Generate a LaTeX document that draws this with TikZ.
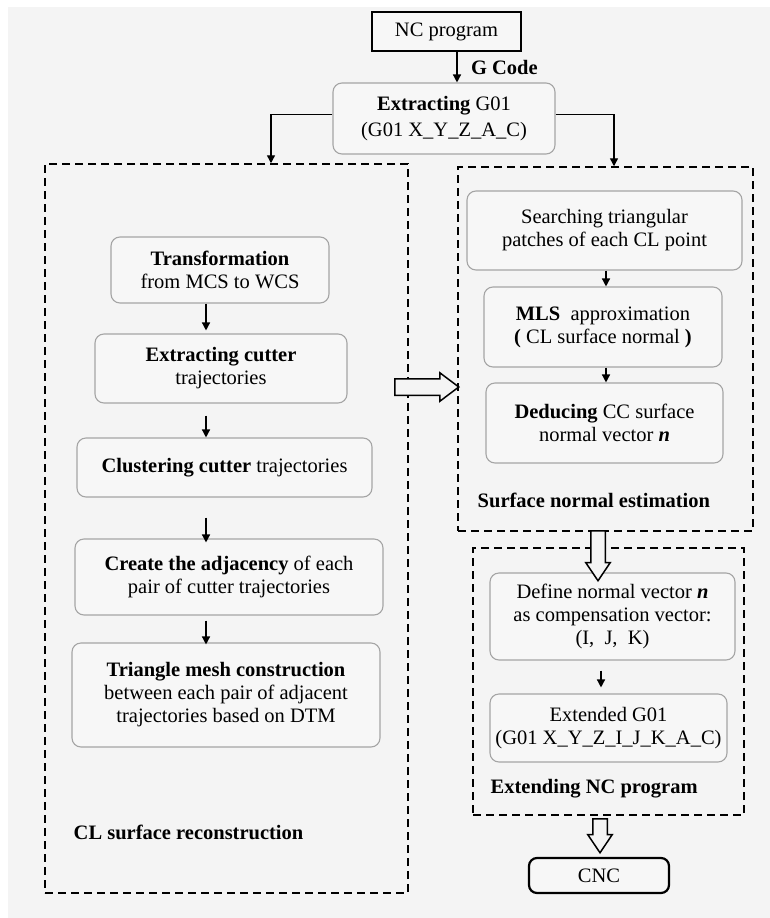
\documentclass[tikz,border=0pt]{standalone}
\usepackage{fontspec}
\setmainfont{Liberation Serif}
\usetikzlibrary{arrows.meta,shapes.arrows}
\definecolor{bgcol}{RGB}{244,244,244}
\definecolor{boxfill}{RGB}{247,247,247}
\definecolor{boxline}{RGB}{165,165,165}

\begin{document}
\begin{tikzpicture}[->,>={Triangle[length=8pt,width=8pt]}
	,x=1pt,y=-1pt
	,line width=1.4pt
	,font=\fontsize{20.5}{23}\selectfont]
  \tikzstyle{proc}=[draw=boxline,line width=1.1pt,rounded corners=9pt,fill=boxfill,align=center,inner sep=0pt]
  \tikzstyle{term}=[draw,line width=2.2pt,fill=boxfill,align=center,inner sep=0pt]
  \tikzstyle{group}=[draw,dash pattern=on 8pt off 5pt,line width=1.5pt,inner sep=0pt]
  \tikzstyle{caption}=[font=\fontsize{20.5}{23}\selectfont\bfseries,anchor=west,inner sep=0pt]
  \tikzstyle{hollow}=[single arrow,draw,fill=bgcol,line width=1.5pt]

  \useasboundingbox (0,0) rectangle (770,918);
  \fill[white,-] (0,0) rectangle (770,918);
  \fill[bgcol,-] (8,7) rectangle (770,918);

  % frames of the three stages
  \node[group,minimum width=363,minimum height=729] (crec) at (226.5,528.5) {};
  \node[group,minimum width=295,minimum height=364] (sne) at (605.5,349) {};
  \node[group,minimum width=271,minimum height=267] (enc) at (608.5,681.5) {};

  % top
  \node[term,minimum width=149,minimum height=39] (nc) at (446.5,31.5) {NC program};
  \node[proc,minimum width=222,minimum height=71] (ext) at (444,118.5)
  	{\textbf{Extracting} G01\\[3pt](G01 X\_Y\_Z\_A\_C)};

  % CL surface reconstruction
  \node[proc,minimum width=218,minimum height=66] (tr) at (220,270)
  	{\textbf{Transformation}\\from MCS to WCS};
  \node[proc,minimum width=252,minimum height=69] (ect) at (221,368.5)
  	{\textbf{Extracting cutter}\\trajectories};
  \node[proc,minimum width=295,minimum height=59] (clu) at (224.5,467.5)
  	{\textbf{Clustering cutter} trajectories};
  \node[proc,minimum width=308,minimum height=76] (adj) at (229,577)
  	{\textbf{Create the adjacency} of each\\pair of cutter trajectories};
  \node[proc,minimum width=308,minimum height=104] (tri) at (226,695)
  	{\textbf{Triangle mesh construction}\\between each pair of adjacent\\trajectories based on DTM};
  \node[caption] (lcrec) at (73,832) {CL surface reconstruction};

  % surface normal estimation
  \node[proc,minimum width=275,minimum height=79] (sea) at (604.5,230.5)
  	{Searching triangular\\patches of each CL point};
  \node[proc,minimum width=238,minimum height=80] (mls) at (603,327)
  	{\textbf{MLS}\ \ approximation\\{\bfseries(} CL surface normal\ {\bfseries)}};
  \node[proc,minimum width=237,minimum height=80] (ded) at (604.5,423)
  	{\textbf{Deducing} CC surface\\normal\ vector \textbf{\textit{n}}};
  \node[caption] (lsne) at (477,500) {Surface normal estimation};

  % extending NC program
  \node[proc,minimum width=245,minimum height=87] (def) at (612.5,616.5)
  	{Define normal vector \textbf{\textit{n}}\\as compensation vector:\\(I,\ \ J,\ \ K)};
  \node[proc,minimum width=237,minimum height=68] (xg) at (608.5,728)
  	{Extended G01\\(G01 X\_Y\_Z\_I\_J\_K\_A\_C)};
  \node[caption] (lenc) at (490,789) {Extending NC program};

  \node[term,rounded corners=8pt,minimum width=140,minimum height=35] (cnc) at (599,875.5) {CNC};

  % hollow arrows
  \node[hollow,inner sep=7.5pt,minimum height=64,minimum width=27,single arrow head extend=6pt,single arrow tip angle=74,anchor=tip] (h1) at (460,387) {};
  \node[hollow,inner sep=6.5pt,minimum height=50,minimum width=23,single arrow head extend=5pt,single arrow tip angle=68,shape border rotate=270,anchor=tail] (h2) at (598,530) {};
  \node[hollow,inner sep=6.5pt,minimum height=34,minimum width=23,single arrow head extend=5pt,single arrow tip angle=68,shape border rotate=270,anchor=tail] (h3) at (600,818) {};

  \coordinate (ga) at (457,0);
  \coordinate (la) at (271,0);
  \coordinate (ra) at (614,0);
  \coordinate (lx) at (206,0);
  \coordinate (rx) at (606,0);
  \coordinate (dx) at (601,0);

  \path (nc.south -| ga) edge node[right=10pt,font=\fontsize{20.5}{23}\selectfont\bfseries] {G Code} (ext.north -| ga);
  \draw ([yshift=4pt]ext.west) -| (la |- crec.north);
  \draw ([yshift=4pt]ext.east) -| (ra |- sne.north);

  \path
  	(tr.south -| lx) edge[shorten >=3pt] (ect.north -| lx)
  	(ect.south -| lx) edge[shorten <=12pt] (clu.north -| lx)
  	(clu.south -| lx) edge[shorten <=20pt,shorten >=-4pt] (adj.north -| lx)
  	(adj.south -| lx) edge[shorten <=5pt,shorten >=-2pt] (tri.north -| lx);
  \path
  	(sea.south -| rx) edge (mls.north -| rx)
  	(mls.south -| rx) edge (ded.north -| rx)
  	(def.south -| dx) edge[shorten <=10pt,shorten >=6pt] (xg.north -| dx);

\end{tikzpicture}
\end{document}
